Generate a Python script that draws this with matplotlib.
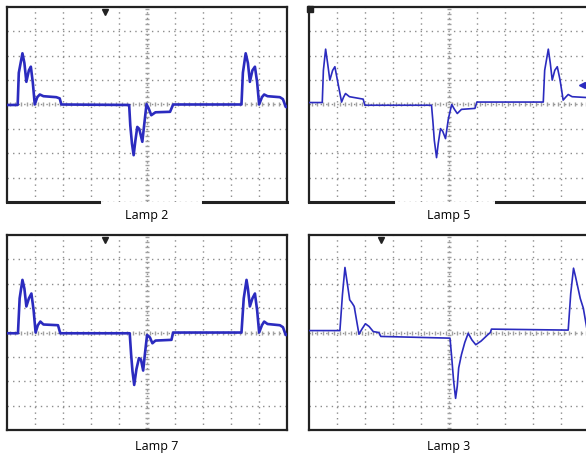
import numpy as np
import matplotlib.pyplot as plt

# traces in screen divisions (x: 0..10, y: -4..4)
lamp2_x = [0, 0.38, 0.42, 0.55, 0.62, 0.69, 0.78, 0.85, 0.92, 0.99, 1.08, 1.17, 1.3, 1.76, 1.88, 1.94,
           4.36, 4.4, 4.46, 4.52, 4.58, 4.65, 4.72, 4.83, 4.9, 4.98, 5.07, 5.15, 5.3, 5.82, 5.93,
           8.37, 8.42, 8.52, 8.6, 8.67, 8.76, 8.85, 8.93, 9.0, 9.1, 9.18, 9.3, 9.74, 9.85, 9.95, 10]
lamp2_y = [-0.02, -0.02, 1.3, 2.1, 1.7, 0.93, 1.4, 1.55, 0.9, 0.0, 0.3, 0.41, 0.34, 0.3, 0.25, 0.0,
           -0.02, -0.85, -1.6, -2.08, -1.5, -0.92, -1.0, -1.53, -0.8, 0.02, -0.2, -0.44, -0.32, -0.3, 0.0,
           0.0, 1.3, 2.1, 1.7, 0.93, 1.4, 1.55, 0.9, 0.0, 0.3, 0.41, 0.34, 0.3, 0.22, -0.1, -0.1]

lamp5_x = [0, 0.48, 0.52, 0.6, 0.67, 0.75, 0.85, 0.93, 1.02, 1.17, 1.24, 1.31, 1.45, 1.94, 2.0,
           4.38, 4.43, 4.48, 4.56, 4.62, 4.7, 4.78, 4.88, 4.98, 5.1, 5.2, 5.3, 5.45, 5.93, 6.0,
           8.37, 8.42, 8.55, 8.62, 8.69, 8.78, 8.87, 8.97, 9.08, 9.17, 9.26, 9.4, 10]
lamp5_y = [0.08, 0.08, 1.4, 2.27, 1.7, 1.0, 1.4, 1.55, 1.0, 0.1, 0.3, 0.45, 0.32, 0.22, -0.03,
           -0.03, -0.7, -1.47, -2.18, -1.6, -0.99, -1.1, -1.4, -0.6, 0.0, -0.2, -0.37, -0.2, -0.16, 0.1,
           0.1, 1.4, 2.27, 1.7, 1.0, 1.4, 1.55, 1.0, 0.18, 0.3, 0.41, 0.32, 0.28]

lamp7_x = [0, 0.39, 0.45, 0.55, 0.62, 0.69, 0.78, 0.87, 0.95, 1.02, 1.1, 1.19, 1.3, 1.82, 1.9,
           4.38, 4.43, 4.48, 4.54, 4.62, 4.71, 4.78, 4.86, 4.93, 5.0, 5.1, 5.19, 5.3, 5.87, 5.93,
           8.37, 8.45, 8.55, 8.6, 8.67, 8.76, 8.85, 8.93, 9.0, 9.1, 9.18, 9.3, 9.74, 9.85, 9.95, 10]
lamp7_y = [-0.03, -0.03, 1.4, 2.16, 1.8, 1.07, 1.4, 1.6, 0.9, 0.0, 0.3, 0.45, 0.33, 0.3, -0.03,
           -0.03, -0.9, -1.6, -2.15, -1.5, -1.05, -1.1, -1.56, -0.8, -0.1, -0.2, -0.44, -0.33, -0.3, 0.0,
           0.0, 1.4, 2.16, 1.8, 1.07, 1.4, 1.6, 0.9, 0.0, 0.3, 0.45, 0.35, 0.3, 0.22, -0.1, -0.1]

lamp3_x = [0, 1.11, 1.2, 1.29, 1.35, 1.46, 1.55, 1.62, 1.72, 1.79, 1.9, 2.02, 2.15, 2.3, 2.5, 2.57,
           5.04, 5.1, 5.17, 5.24, 5.3, 5.35, 5.45, 5.57, 5.69, 5.82, 5.96, 6.15, 6.38, 6.48, 6.52,
           9.26, 9.35, 9.45, 9.52, 9.69, 9.8, 9.92, 10]
lamp3_y = [0.08, 0.08, 1.55, 2.67, 2.2, 1.34, 1.2, 1.07, 0.4, -0.07, 0.15, 0.36, 0.25, 0.04, 0.0, -0.16,
           -0.23, -1.0, -2.0, -2.7, -2.2, -1.45, -0.9, -0.4, -0.03, -0.3, -0.5, -0.35, -0.1, 0.0, 0.14,
           0.1, 1.6, 2.64, 2.3, 1.4, 1.0, 0.2, -0.05]

panels = [
    ("Lamp 2", lamp2_x, lamp2_y, 1.9, [0.012, 0.558]),
    ("Lamp 5", lamp5_x, lamp5_y, 1.2, [0.527, 0.558]),
    ("Lamp 7", lamp7_x, lamp7_y, 1.9, [0.012, 0.059]),
    ("Lamp 3", lamp3_x, lamp3_y, 1.2, [0.527, 0.059]),
]
trig_x = [3.49, 0.0, 3.49, 2.57]
label_pos = [(0.5, -0.035), (0.5, -0.035), (0.536, -0.05), (0.5, -0.05)]

col = "#2b2bbf"
grid_col = "#8c8c8c"
fig = plt.figure(figsize=(5.86, 4.57), dpi=100)

for i, (name, xs, ys, lw, pos) in enumerate(panels):
    ax = fig.add_axes([pos[0], pos[1], 0.478, 0.4267])
    ax.set_xlim(0, 10)
    ax.set_ylim(-4, 4)
    # dotted graticule
    for gx in range(1, 10):
        ax.axvline(gx, color=grid_col, lw=1.0, ls=(0, (1, 3)), zorder=1)
    for gy in range(-3, 4):
        ax.axhline(gy, color=grid_col, lw=1.0, ls=(0, (1, 3)), zorder=1)
    # finer ticks on the centre lines
    tx = np.arange(0.1, 10, 0.2)
    ty = np.arange(-3.9, 4, 0.2)
    ax.plot(tx, np.zeros_like(tx), ls="none", marker="|", ms=2.5, mew=1.0, color="#a0a0a0", zorder=1)
    ax.plot(np.full_like(ty, 5.0), ty, ls="none", marker="_", ms=2.5, mew=1.0, color="#a0a0a0", zorder=1)
    ax.plot(xs, ys, color=col, lw=lw, zorder=3)

    ax.set_xticks([])
    ax.set_yticks([])
    for s in ax.spines.values():
        s.set_color("#222222")
        s.set_linewidth(1.6)
    if i < 2:
        ax.spines["bottom"].set_visible(False)
        gap = (3.29, 7.0) if i == 0 else (3.0, 6.7)
        ax.plot([0, gap[0]], [-4, -4], color="#222222", lw=2.2, clip_on=False, zorder=4)
        ax.plot([gap[1], 10], [-4, -4], color="#222222", lw=2.2, clip_on=False, zorder=4)
        ax.axhline(-4, color=grid_col, lw=1.0, ls=(0, (1, 3)), zorder=1)

    if i == 1:
        ax.plot(0.05, 3.9, marker="s", ms=4, color="#222222", clip_on=False, zorder=5)
        ax.plot(9.76, 0.8, marker="<", ms=5, color=col, zorder=5)
    else:
        ax.plot(trig_x[i], 3.78, marker="v", ms=5, color="#222222", zorder=5)

    lx, ly = label_pos[i]
    ax.text(lx, ly, name, transform=ax.transAxes, ha="center", va="top",
            fontsize=9, family=["Open Sans", "DejaVu Sans"])

fig.savefig("out.png", dpi=100)
